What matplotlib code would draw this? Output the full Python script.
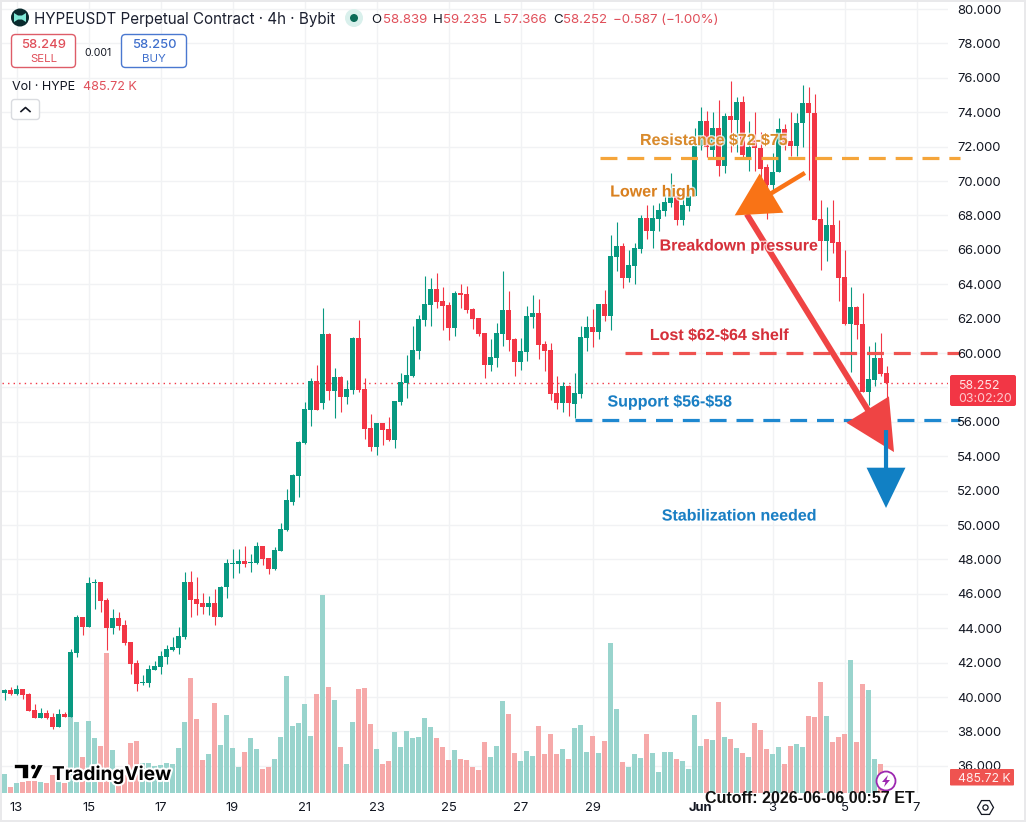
import math

import matplotlib
matplotlib.use("Agg")
import matplotlib.pyplot as plt
import matplotlib.patheffects as pe
from matplotlib.lines import Line2D
from matplotlib.patches import Circle, FancyBboxPatch, Polygon, Rectangle, RegularPolygon

# 4h candles, 13 May to 5 Jun
opens = [
    40.25, 40.41, 40.19, 40.47, 40.17, 39.24, 38.80, 39.07, 38.84, 38.26,
    39.03, 38.84, 42.56, 44.65, 44.07, 46.63, 46.69, 45.64, 44.01, 44.59,
    44.19, 43.20, 41.98, 40.81, 40.81, 41.57, 41.74, 42.33, 42.73, 42.85,
    43.50, 46.69, 45.70, 45.46, 45.23, 45.46, 44.65, 46.37, 47.71, 47.71,
    47.88, 47.79, 47.77, 48.76, 48.06, 47.42, 48.47, 49.69, 51.36, 52.85,
    54.75, 56.69, 58.38, 57.10, 61.11, 57.80, 58.61, 57.45, 57.86, 60.88,
    57.91, 55.65, 54.54, 55.94, 55.59, 54.95, 57.16, 58.26, 58.67, 60.12,
    61.93, 62.80, 63.73, 63.03, 62.80, 61.46, 63.50, 63.44, 62.57, 62.04,
    61.17, 59.31, 59.72, 61.11, 62.51, 60.82, 59.48, 60.07, 62.10, 62.33,
    60.53, 60.18, 57.68, 57.10, 58.09, 57.04, 57.62, 60.88, 61.52, 61.23,
    62.86, 62.16, 65.60, 66.20, 64.36, 65.05, 66.04, 67.84, 67.09, 67.79,
    68.25, 68.72, 69.12, 67.73, 68.54, 69.12, 72.03, 73.48, 71.80, 73.08,
    70.87, 73.78, 73.54, 74.59, 71.40, 72.40, 71.90, 70.80, 69.75, 70.54,
    73.00, 72.30, 72.03, 73.35, 74.55, 73.93, 67.78, 66.52, 67.43, 66.45,
    64.41, 61.68, 62.67, 61.68, 57.74, 58.42, 59.70, 58.839,
]
highs = [
    40.45, 40.56, 40.68, 40.47, 40.21, 39.60, 39.34, 39.24, 39.05, 39.30,
    39.15, 42.77, 44.77, 44.65, 46.98, 46.88, 46.69, 45.76, 45.12, 44.94,
    44.48, 43.20, 42.15, 41.28, 41.86, 42.09, 42.67, 43.02, 43.50, 44.07,
    47.27, 47.33, 46.98, 46.05, 45.87, 46.28, 46.45, 48.00, 48.58, 48.58,
    48.76, 48.30, 48.99, 48.80, 48.10, 48.70, 50.10, 52.10, 52.97, 54.90,
    57.16, 58.53, 59.31, 62.60, 61.17, 59.14, 58.67, 58.44, 60.94, 61.93,
    58.53, 56.46, 55.94, 55.94, 56.29, 57.22, 58.84, 59.89, 61.58, 62.22,
    64.48, 64.37, 64.66, 63.85, 62.97, 63.61, 64.02, 63.90, 62.62, 62.04,
    61.17, 60.82, 61.75, 64.78, 63.61, 60.88, 60.88, 62.74, 63.38, 63.15,
    60.71, 60.59, 58.67, 58.32, 58.15, 58.84, 61.58, 62.16, 62.57, 62.86,
    63.67, 66.86, 67.60, 66.40, 66.00, 66.37, 68.00, 68.60, 68.58, 68.70,
    69.24, 70.44, 69.38, 69.09, 69.67, 73.06, 74.30, 74.07, 74.00, 74.70,
    73.93, 75.80, 74.90, 74.95, 73.50, 74.00, 72.85, 71.00, 71.60, 73.64,
    73.30, 74.00, 73.93, 75.58, 75.44, 75.05, 68.89, 68.46, 68.89, 67.72,
    65.98, 63.85, 62.72, 63.46, 60.40, 60.63, 61.14, 59.235,
]
lows = [
    39.83, 40.12, 40.12, 39.88, 39.20, 38.80, 38.80, 38.70, 38.16, 38.26,
    38.84, 38.84, 42.34, 43.58, 44.07, 45.12, 44.96, 42.73, 43.66, 43.90,
    43.02, 41.34, 40.35, 40.70, 40.58, 41.57, 41.34, 41.92, 42.67, 42.50,
    43.38, 44.65, 44.77, 44.83, 44.77, 44.19, 44.65, 45.73, 46.90, 47.19,
    47.53, 47.25, 47.71, 47.65, 47.13, 47.36, 48.47, 49.63, 51.17, 51.65,
    54.70, 55.76, 56.69, 56.75, 57.28, 56.23, 56.58, 57.04, 57.62, 57.74,
    55.01, 54.31, 54.08, 54.66, 54.89, 54.48, 56.98, 57.39, 58.61, 59.66,
    61.58, 61.58, 62.62, 61.34, 60.76, 61.00, 62.62, 62.33, 61.40, 61.00,
    58.55, 58.96, 59.19, 60.41, 60.12, 58.67, 59.02, 59.54, 61.46, 59.66,
    58.96, 57.28, 56.75, 56.58, 56.34, 56.23, 57.39, 60.12, 60.36, 60.82,
    61.87, 61.34, 64.76, 63.80, 64.14, 64.00, 65.83, 66.62, 66.10, 67.09,
    67.96, 68.50, 67.44, 67.44, 68.25, 69.12, 71.80, 71.41, 71.41, 70.29,
    70.44, 71.68, 71.70, 71.30, 70.60, 70.60, 70.15, 67.80, 69.30, 70.54,
    71.80, 71.45, 71.45, 72.00, 70.05, 67.73, 64.82, 65.36, 65.79, 63.03,
    61.60, 58.91, 60.83, 57.74, 56.97, 58.09, 58.65, 57.366,
]
closes = [
    40.41, 40.17, 40.47, 40.12, 39.20, 38.80, 39.07, 38.80, 38.26, 39.01,
    38.84, 42.62, 44.65, 44.07, 46.63, 46.69, 45.58, 44.01, 44.59, 44.13,
    43.14, 41.92, 40.76, 40.87, 41.63, 41.80, 42.38, 42.79, 42.91, 43.55,
    46.69, 45.64, 45.41, 45.23, 45.46, 44.65, 46.40, 47.77, 47.77, 47.88,
    47.71, 47.83, 48.76, 48.00, 47.42, 48.52, 49.74, 51.43, 52.91, 54.83,
    56.75, 58.38, 56.69, 61.11, 57.80, 58.61, 57.45, 57.91, 60.88, 57.86,
    55.59, 54.54, 55.94, 55.53, 54.95, 57.22, 58.32, 58.73, 60.18, 61.98,
    62.86, 63.73, 62.97, 62.74, 61.46, 63.50, 63.38, 62.51, 61.98, 61.11,
    59.31, 59.78, 61.17, 62.51, 60.76, 59.48, 60.12, 62.16, 62.33, 60.47,
    60.12, 57.62, 57.10, 58.09, 57.10, 57.68, 60.94, 61.52, 61.23, 62.86,
    62.16, 65.64, 66.20, 64.36, 65.10, 66.10, 67.84, 67.09, 67.84, 68.31,
    68.78, 69.12, 67.73, 68.60, 69.12, 72.03, 73.48, 72.00, 73.08, 70.87,
    73.78, 73.54, 74.59, 71.50, 72.00, 71.90, 70.70, 69.75, 70.55, 73.00,
    72.10, 72.03, 73.35, 74.55, 73.93, 67.73, 66.52, 67.43, 66.41, 64.37,
    61.68, 62.67, 61.62, 57.74, 58.48, 59.70, 58.77, 58.252,
]
# volume in thousands of HYPE
volumes = [
    577, 182, 304, 334, 364, 364, 334, 304, 546, 364,
    304, 2307, 2156, 1093, 2186, 1670, 1427, 4250, 1305, 243,
    546, 1518, 1579, 901, 901, 820, 850, 911, 880, 1366,
    2156, 3491, 2247, 1002, 1184, 2732, 1457, 2368, 1366, 789,
    1245, 1670, 1336, 729, 789, 1032, 1700, 3552, 2034, 2125,
    2702, 1731, 3006, 6011, 3218, 2823, 1407, 880, 2156, 3157,
    3188, 2095, 1336, 880, 972, 1852, 1397, 1882, 1670, 1700,
    2277, 2004, 1670, 1397, 1002, 1305, 1032, 1002, 789, 698,
    1548, 1093, 1427, 2793, 2398, 1214, 972, 1275, 1123, 2034,
    1184, 1791, 1184, 1336, 1032, 1973, 2064, 1245, 1731, 1214,
    1579, 4554, 2550, 941, 789, 1184, 1063, 1791, 1214, 638,
    1245, 1245, 1032, 972, 729, 2368, 1427, 1639, 1609, 2763,
    1700, 1639, 1366, 1214, 1093, 2125, 1913, 1336, 1184, 1397,
    880, 1427, 1488, 1397, 2338, 2307, 3370, 2338, 1548, 1700,
    1791, 4038, 1548, 3309, 3127, 1032, 880, 485.72,
]

price_ticks = list(range(36, 82, 2))
date_ticks = [2, 14, 26, 38, 50, 62, 74, 86, 98, 116, 128, 140, 152]
date_labels = ["13", "15", "17", "19", "21", "23", "25", "27", "29", "Jun", "3", "5", "7"]

last_price = 58.252
resistance_level = 71.35
shelf_level = 59.98
support_level = 56.08

W, H = 1026, 822
UP = "#089981"
DOWN = "#F23645"
UP_VOL = "#99D4CD"
DOWN_VOL = "#F6A9A9"
INK = "#131722"
UI_FONT = "Inter"
NOTE_FONT = "Liberation Sans"

plt.rcParams["font.family"] = [UI_FONT, "DejaVu Sans"]
# keep $ literal in the note labels
plt.rcParams["text.parse_math"] = False

fig = plt.figure(figsize=(W / 100, H / 100), dpi=100, facecolor="#E9E9EB")
fig.add_artist(Rectangle((1.5 / W, 1 - 820 / H), 1022 / W, 818 / H, transform=fig.transFigure,
                         facecolor="white", edgecolor="none", zorder=-1))

# pane spans 2..948 across and 2..793 down
rect = [2 / W, 1 - 793 / H, 946 / W, 791 / H]
x_range = (-2.5 / 6, (948 - 4.5) / 6)
y_range = (56 - (793 - 421.8) / 17.2, 56 + (421.8 - 2) / 17.2)


def bare_axes(zorder):
    a = fig.add_axes(rect, zorder=zorder)
    a.set_xlim(*x_range)
    a.patch.set_visible(False)
    for spine in a.spines.values():
        spine.set_visible(False)
    a.set_xticks([])
    a.set_yticks([])
    return a


ax_grid = bare_axes(1)
ax_vol = bare_axes(2)
ax = bare_axes(3)

ax_grid.set_ylim(*y_range)
ax.set_ylim(*y_range)
ax_vol.set_ylim(0, 791 * 485.72 / 16)

for p in price_ticks:
    ax_grid.axhline(p, color="#F1F2F4", lw=1)
for d in date_ticks:
    ax_grid.axvline(d, color="#F1F2F4", lw=1)

bars = range(len(closes))
is_up = [c >= o for o, c in zip(opens, closes)]
candle_colors = [UP if u else DOWN for u in is_up]

ax_vol.bar(bars, volumes, width=0.82, color=[UP_VOL if u else DOWN_VOL for u in is_up], linewidth=0)

ax.axhline(last_price, color=DOWN, lw=1, dashes=(1, 3), zorder=1)
ax.vlines(bars, lows, highs, colors=candle_colors, lw=0.8, zorder=2)
ax.bar(bars, [abs(c - o) for o, c in zip(opens, closes)], bottom=[min(o, c) for o, c in zip(opens, closes)],
       width=0.82, color=candle_colors, linewidth=0, zorder=3)

# dashed levels run a little past the pane edge
level_style = dict(lw=2.3, dashes=(5.3, 3.1), clip_on=False, zorder=4, dash_capstyle="butt")
ax.plot([99.25, 159.25], [resistance_level] * 2, color="#F5A53A", **level_style)
ax.plot([103.4, 159.25], [shelf_level] * 2, color="#EF5350", **level_style)
ax.plot([95.1, 159.25], [support_level] * 2, color="#1E88D0", **level_style)


def arrow(start, tip, color, head_len, head_w, tail_w, z):
    ax.annotate("", xy=tip, xytext=start, annotation_clip=False, zorder=z,
                arrowprops=dict(arrowstyle=f"simple,head_length={head_len},head_width={head_w},tail_width={tail_w}",
                                mutation_scale=1, color=color, lw=0, shrinkA=0, shrinkB=0))


arrow((123.7, 68.08), (148.25, 54.24), "#EF4444", 36, 36, 4.2, 5)
arrow((133.4, 70.47), (121.7, 68.0), "#F97316", 31, 33, 3.2, 6)
arrow((146.92, 55.52), (146.92, 50.99), "#1180C4", 29, 28, 3, 7)

# everything below is placed in pixel coordinates
ui = fig.add_axes([0, 0, 1, 1], zorder=10)
ui.set_xlim(0, W)
ui.set_ylim(H, 0)
ui.axis("off")


def label(x, y, s, size=13, color=INK, ha="left", weight="normal", family=UI_FONT, **kw):
    return ui.text(x, y, s, fontsize=size * 0.72, color=color, ha=ha, va="center_baseline",
                   fontweight=weight, family=[family, "DejaVu Sans"], **kw)


def round_box(x0, y0, x1, y1, radius, face, edge, lw=1.0, z=2):
    ui.add_patch(FancyBboxPatch((x0, y0), x1 - x0, y1 - y0, boxstyle=f"round,pad=0,rounding_size={radius}",
                                facecolor=face, edgecolor=edge, lw=lw, zorder=z))


# price axis and its tags
for p in price_ticks:
    label(957, 421.8 - (p - 56) * 17.2, f"{p:.3f}", size=13, zorder=1)
round_box(950, 375, 1016, 406, 2, DOWN, "none")
label(958, 384, "58.252", size=12.4, color="#FFE3E5", zorder=3)
label(958, 397.5, "03:02:20", size=12.4, color="#FFC9CD", zorder=3)
round_box(950, 769, 1014, 785.5, 1, "#EF5350", "none")
label(958, 777.5, "485.72 K", size=12.2, color="#FFEDED", zorder=3)

for d, s in zip(date_ticks, date_labels):
    label(4.5 + 6 * d, 806.5, s, size=13, ha="center", weight="bold" if s == "Jun" else "normal")

ui.add_patch(RegularPolygon((985.5, 807.5), 6, radius=8, orientation=math.pi / 6, facecolor="none",
                            edgecolor=INK, lw=0.9))
ui.add_patch(Circle((985.5, 807.5), 2.6, facecolor="none", edgecolor=INK, lw=0.9))

# header row
ui.add_patch(Circle((20, 17.5), 9, facecolor="#0A2B2E", edgecolor="none"))
ui.add_patch(Polygon([(14, 13), (18, 15.5), (22, 15.5), (26, 13), (26, 22), (22, 19.5), (18, 19.5), (14, 22)],
                     facecolor="#7FE8D6", edgecolor="none"))
label(33.5, 18, "HYPEUSDT Perpetual Contract · 4h · Bybit", size=15.2, color="#1C2030")
ui.add_patch(Circle((354, 18), 9, facecolor="#D9F0EC", edgecolor="none"))
ui.add_patch(Circle((354, 18), 4, facecolor="#0B6B58", edgecolor="none"))

red_text = "#E04F5A"
for x, s in [(371, "O"), (433, "H"), (494, "L"), (553, "C")]:
    label(x, 18.5, s, size=13.3)
for x, s in [(383, "58.839"), (443, "59.235"), (503, "57.366"), (563, "58.252"), (613, "−0.587 (−1.00%)")]:
    label(x, 18.5, s, size=13.3, color=red_text)

round_box(11.5, 34.5, 75.5, 67.5, 4, "white", "#DE5C68", lw=1)
label(43.5, 44, "58.249", size=13, color=red_text, ha="center", weight="medium")
label(43.5, 58, "SELL", size=11.5, color=red_text, ha="center")
label(98, 51.5, "0.001", size=10.5, ha="center")
round_box(121.5, 34.5, 186.5, 67.5, 4, "white", "#4A78D0", lw=1)
label(154, 44, "58.250", size=13, color="#3F6FCC", ha="center", weight="medium")
label(154, 58, "BUY", size=11.5, color="#3F6FCC", ha="center")

label(12, 85, "Vol · HYPE", size=12.6)
label(83, 85, "485.72 K", size=12.6, color=red_text)
round_box(11.5, 99.5, 39.5, 119.5, 3, "white", "#DADCE0")
ui.add_line(Line2D([21, 25.5, 30], [111.5, 107.5, 111.5], color=INK, lw=1.2))

# wordmark
halo = [pe.withStroke(linewidth=3, foreground="white")]
for poly in ([(14, 764.3), (29.3, 764.3), (29.3, 779), (21.7, 779), (21.7, 769.3), (14, 769.3)],
             [(44, 764.3), (37.5, 764.3), (30.5, 779), (36.5, 779)]):
    ui.add_patch(Polygon(poly, facecolor="black", edgecolor="white", lw=1.2, zorder=4))
ui.add_patch(Circle((33.3, 767), 2.7, facecolor="black", edgecolor="white", lw=0.6, zorder=4))
label(52, 772.5, "TradingView", size=19, color="black", weight="bold", zorder=4, path_effects=halo)

# lightning badge
ui.add_patch(Circle((886, 781), 9.5, facecolor="white", edgecolor="#9C27B0", lw=1.3, zorder=4))
ui.add_patch(Polygon([(888, 775), (882, 782), (885.5, 782), (884, 787), (890, 780), (886.5, 780)],
                     facecolor="#9C27B0", edgecolor="none", zorder=5))

# chart notes
soft = [pe.withStroke(linewidth=2, foreground="white", alpha=0.75)]
notes = [
    (714, 139, "Resistance $72-$75", "#D98A2B"),
    (653, 190.5, "Lower high", "#D9801F"),
    (739, 244.5, "Breakdown pressure", "#D5303A"),
    (719.5, 334, "Lost $62-$64 shelf", "#D5303A"),
    (670, 400.5, "Support $56-$58", "#1A7FC4"),
    (739.5, 514.5, "Stabilization needed", "#1A7FC4"),
]
for x, y, s, c in notes:
    label(x, y, s, size=16, color=c, ha="center", weight="bold", family=NOTE_FONT, zorder=6, path_effects=soft)

label(810, 796.5, "Cutoff: 2026-06-06 00:57 ET", size=16, color="#111111", ha="center", weight="bold",
      family=NOTE_FONT, zorder=6)

fig.savefig("out.png", dpi=100, facecolor=fig.get_facecolor())
